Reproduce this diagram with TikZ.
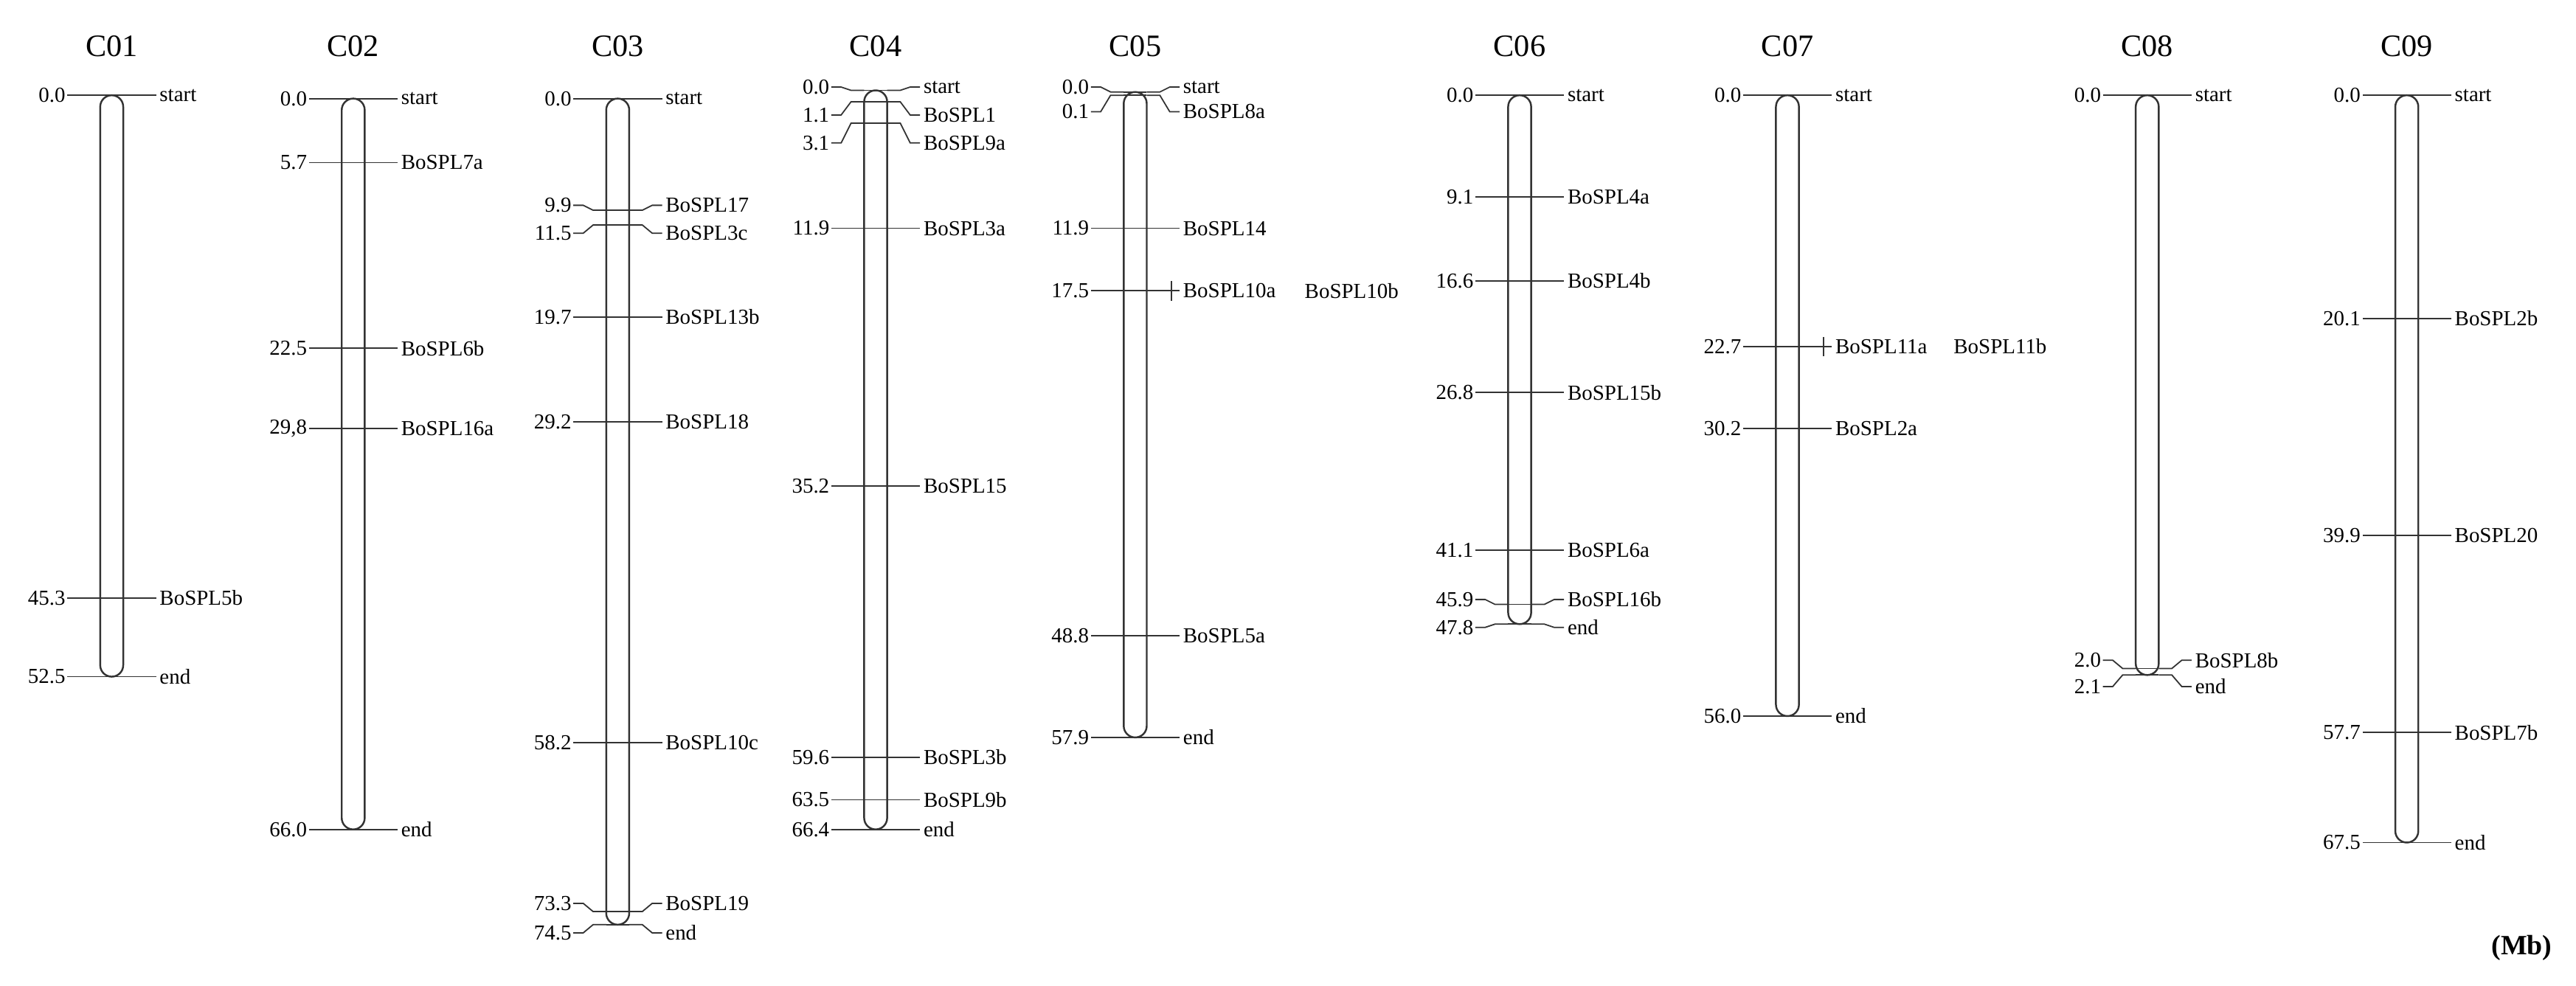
\documentclass[tikz,border=0pt]{standalone}
\usepackage{fontspec}
\setmainfont{Liberation Serif}
\usetikzlibrary{positioning}
\tikzset{
  rod/.style={draw=black!80, line width=1.1pt, rounded corners=7pt},
  tick/.style={draw=black!80, line width=0.8pt},
  pos_text/.style={font=\fontsize{13}{13}\selectfont, anchor=east, inner sep=1pt},
  gene_text/.style={font=\fontsize{13}{13}\selectfont, anchor=west, inner sep=1pt},
  title_text/.style={font=\fontsize{19}{19}\selectfont}
}
% #1 name, #2 x, #3 top, #4 bottom, #5 markers {ypos/ylabel/number/gene}
\newcommand{\chrom}[5]{%
  \node[title_text] (t#1) at (#2,28) {#1};
  \draw[rod] (#2-7,#3) rectangle (#2+7,#4);
  \foreach \p/\l/\n/\g in {#5} {
    \draw[tick] (#2-7,\p) -- (#2-15,\p) -- (#2-21,\l) -- (#2-27,\l);
    \draw[tick] (#2-7,\p) -- (#2+7,\p);
    \draw[tick] (#2+7,\p) -- (#2+15,\p) -- (#2+21,\l) -- (#2+27,\l);
    \node[pos_text] at (#2-27,\l) {\n};
    \node[gene_text] at (#2+28,\l) {\g};
  }
}
\begin{document}
\begin{tikzpicture}[x=1pt,y=-1pt]
  \useasboundingbox (0,0) rectangle (1568,600);

  % Chromosomes
  \chrom{C01}{68}{58}{412}{58/58/0.0/start, 364/364/45.3/BoSPL5b, 412/412/52.5/end}
  \chrom{C02}{215}{60}{505}{60/60/0.0/start, 99/99/5.7/BoSPL7a, 212/212/22.5/BoSPL6b,
    261/261/{29,8}/BoSPL16a, 505/505/66.0/end}
  \chrom{C03}{376}{60}{563}{60/60/0.0/start, 128/125/9.9/BoSPL17, 137/142/11.5/BoSPL3c,
    193/193/19.7/BoSPL13b, 257/257/29.2/BoSPL18, 452/452/58.2/BoSPL10c,
    555/550/73.3/BoSPL19, 563/568/74.5/end}
  \chrom{C04}{533}{55}{505}{55/53/0.0/start, 62/70/1.1/BoSPL1, 75/87/3.1/BoSPL9a,
    139/139/11.9/BoSPL3a, 296/296/35.2/BoSPL15, 461/461/59.6/BoSPL3b,
    487/487/63.5/BoSPL9b, 505/505/66.4/end}
  \chrom{C05}{691}{56}{449}{56/53/0.0/start, 58/68/0.1/BoSPL8a, 139/139/11.9/BoSPL14,
    177/177/17.5/BoSPL10a, 387/387/48.8/BoSPL5a, 449/449/57.9/end}
  \chrom{C06}{925}{58}{380}{58/58/0.0/start, 120/120/9.1/BoSPL4a, 171/171/16.6/BoSPL4b,
    239/239/26.8/BoSPL15b, 335/335/41.1/BoSPL6a, 368/365/45.9/BoSPL16b,
    380/382/47.8/end}
  \chrom{C07}{1088}{58}{436}{58/58/0.0/start, 211/211/22.7/BoSPL11a, 261/261/30.2/BoSPL2a,
    436/436/56.0/end}
  \chrom{C08}{1307}{58}{411}{58/58/0.0/start, 407/402/2.0/BoSPL8b, 411/418/2.1/end}
  \chrom{C09}{1465}{58}{513}{58/58/0.0/start, 194/194/20.1/BoSPL2b, 326/326/39.9/BoSPL20,
    446/446/57.7/BoSPL7b, 513/513/67.5/end}

  % Merged markers
  \draw[tick] (713,171) -- (713,183);
  \node[gene_text] (b10b) at (793,177) {BoSPL10b};
  \draw[tick] (1110,205) -- (1110,217);
  \node[gene_text] (b11b) at (1188,211) {BoSPL11b};

  \node[font=\bfseries\fontsize{17}{17}\selectfont] (unit) at (1535,577) {(Mb)};
\end{tikzpicture}
\end{document}
